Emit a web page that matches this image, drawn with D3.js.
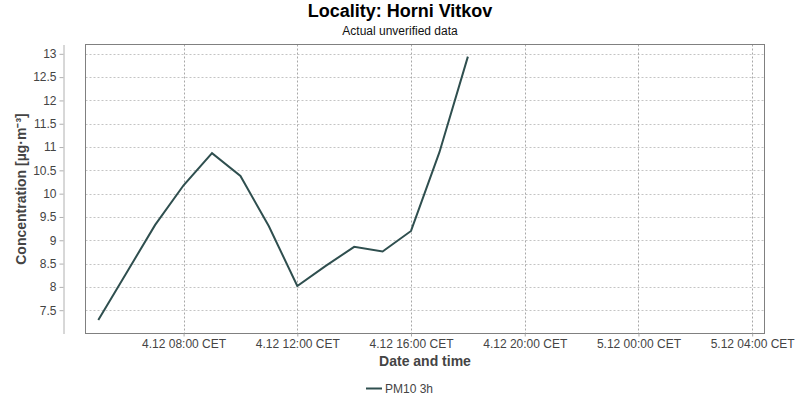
<!DOCTYPE html>
<html>
<head>
<meta charset="utf-8">
<script src="https://cdn.jsdelivr.net/npm/d3@7"></script>
<style>
  html, body { margin: 0; padding: 0; background: #fff; }
  svg { display: block; font-family: "Liberation Sans", Arial, sans-serif; }
</style>
</head>
<body>
<svg id="chart"></svg>
<script>
// hourly PM10 (3h running) values, 4.12
const times = [
  "2023-12-04T05:00", "2023-12-04T06:00", "2023-12-04T07:00", "2023-12-04T08:00",
  "2023-12-04T09:00", "2023-12-04T10:00", "2023-12-04T11:00", "2023-12-04T12:00",
  "2023-12-04T13:00", "2023-12-04T14:00", "2023-12-04T15:00", "2023-12-04T16:00",
  "2023-12-04T17:00", "2023-12-04T18:00"
];
const pm10 = [7.29, 8.31, 9.33, 10.18, 10.87, 10.38, 9.30, 8.02, 8.45, 8.86, 8.76, 9.20, 10.89, 12.94];
const yTicks = [7.5, 8, 8.5, 9, 9.5, 10, 10.5, 11, 11.5, 12, 12.5, 13];
const xRange = ["2023-12-04T04:33", "2023-12-05T04:26"];
const seriesName = "PM10 3h";

const width = 800;
const height = 400;
const plot = { left: 85.5, right: 764.5, top: 44.5, bottom: 333.5 };

const parseTime = s => new Date(s + "Z");
const data = times.map((t, i) => ({ t: parseTime(t), v: pm10[i] }));

const svg = d3.select("#chart")
  .attr("width", width)
  .attr("height", height);

const x = d3.scaleUtc()
  .domain(xRange.map(parseTime))
  .range([plot.left, plot.right]);

const y = d3.scaleLinear()
  .domain([7.0, 13.2])
  .range([plot.bottom, plot.top]);

const xTickValues = d3.utcHour.every(4).range(x.domain()[0], x.domain()[1]);
const fmt = d3.utcFormat("%-d.%-m %H:%M");

// gridlines
svg.append("g")
  .selectAll("line")
  .data(yTicks)
  .join("line")
  .attr("x1", plot.left)
  .attr("x2", plot.right)
  .attr("y1", d => Math.round(y(d)) + 0.5)
  .attr("y2", d => Math.round(y(d)) + 0.5)
  .attr("stroke", "#c4c4c4")
  .attr("stroke-dasharray", "2,2");

svg.append("g")
  .selectAll("line")
  .data(xTickValues)
  .join("line")
  .attr("x1", d => Math.round(x(d)) + 0.5)
  .attr("x2", d => Math.round(x(d)) + 0.5)
  .attr("y1", plot.top)
  .attr("y2", plot.bottom)
  .attr("stroke", "#a8a8a8")
  .attr("stroke-dasharray", "2,2");

// plot border
svg.append("rect")
  .attr("x", plot.left)
  .attr("y", plot.top)
  .attr("width", plot.right - plot.left)
  .attr("height", plot.bottom - plot.top)
  .attr("fill", "none")
  .attr("stroke", "#808080");

// y axis, offset from the plot
const yAxis = svg.append("g")
  .attr("transform", "translate(63.5,0)")
  .call(d3.axisLeft(y).tickValues(yTicks).tickSize(4).tickSizeOuter(0).tickPadding(3)
    .tickFormat(d => d3.format("")(d)));
yAxis.select(".domain").attr("stroke", "#b0b0b0");
yAxis.selectAll(".tick line").attr("stroke", "#b0b0b0");
yAxis.selectAll(".tick text")
  .attr("fill", "#444")
  .style("font-size", "12px")
  .style("font-family", "Liberation Sans, Arial, sans-serif");

// x axis
const xAxis = svg.append("g")
  .attr("transform", `translate(0,${plot.bottom})`)
  .call(d3.axisBottom(x).tickValues(xTickValues).tickSize(3).tickSizeOuter(0).tickPadding(3)
    .tickFormat(d => fmt(d) + " CET"));
xAxis.select(".domain").remove();
xAxis.selectAll(".tick line").attr("stroke", "#a8a8a8");
xAxis.selectAll(".tick text")
  .attr("fill", "#444")
  .style("font-size", "12px")
  .style("font-family", "Liberation Sans, Arial, sans-serif");

// series line
const line = d3.line()
  .x(d => x(d.t))
  .y(d => y(d.v));

svg.append("path")
  .datum(data)
  .attr("d", line)
  .attr("fill", "none")
  .attr("stroke", "#2f4f4f")
  .attr("stroke-width", 2);

// titles
svg.append("text")
  .attr("x", 400)
  .attr("y", 17)
  .attr("text-anchor", "middle")
  .style("font-size", "18px")
  .style("font-weight", "bold")
  .attr("fill", "#000")
  .text("Locality: Horni Vitkov");

svg.append("text")
  .attr("x", 400)
  .attr("y", 35)
  .attr("text-anchor", "middle")
  .style("font-size", "12px")
  .attr("fill", "#111")
  .text("Actual unverified data");

svg.append("text")
  .attr("transform", `translate(26,${(plot.top + plot.bottom) / 2}) rotate(-90)`)
  .attr("text-anchor", "middle")
  .style("font-size", "14px")
  .style("font-weight", "bold")
  .attr("fill", "#444")
  .text("Concentration [µg·m⁻³]");

svg.append("text")
  .attr("x", (plot.left + plot.right) / 2)
  .attr("y", 366)
  .attr("text-anchor", "middle")
  .style("font-size", "14px")
  .style("font-weight", "bold")
  .attr("fill", "#444")
  .text("Date and time");

// legend
const legend = svg.append("g").attr("transform", "translate(366,388.5)");
legend.append("line")
  .attr("x1", 0)
  .attr("x2", 16)
  .attr("stroke", "#2f4f4f")
  .attr("stroke-width", 2);
legend.append("text")
  .attr("x", 19)
  .attr("y", 4)
  .style("font-size", "12px")
  .attr("fill", "#444")
  .text(seriesName);
</script>
</body>
</html>
